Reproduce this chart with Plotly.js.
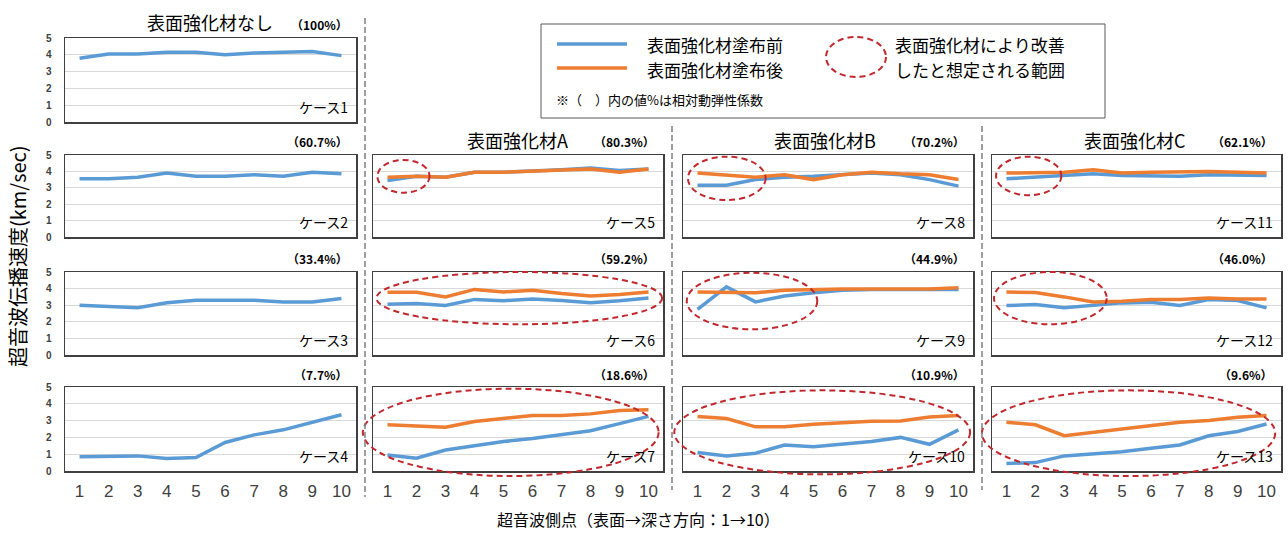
<!DOCTYPE html>
<html>
<head>
<meta charset="utf-8">
<script src="https://cdn.plot.ly/plotly-3.0.1.min.js"></script>
<style>html,body{margin:0;padding:0;background:#fff;}#chart{width:1288px;height:533px;}</style>
</head>
<body>
<div id="chart"></div>
<script>
// ---- data ----
const points = [1,2,3,4,5,6,7,8,9,10];
const pointLabels = ["1","2","3","4","5","6","7","8","9","10"];
const seriesNames = ["表面強化材塗布前","表面強化材塗布後"];
const caseLabels = ["ケース1","ケース2","ケース3","ケース4","ケース5","ケース6","ケース7","ケース8","ケース9","ケース10","ケース11","ケース12","ケース13"];
const pctLabels = ["（100%）","（60.7%）","（33.4%）","（7.7%）","（80.3%）","（59.2%）","（18.6%）","（70.2%）","（44.9%）","（10.9%）","（62.1%）","（46.0%）","（9.6%）"];
const columnTitles = ["表面強化材なし","表面強化材A","表面強化材B","表面強化材C"];

const before1 = [3.8,4.05,4.05,4.15,4.15,4.0,4.1,4.15,4.2,3.95];
const before2 = [3.55,3.55,3.65,3.9,3.7,3.7,3.8,3.7,3.95,3.85];
const before3 = [3.0,2.95,2.85,3.15,3.3,3.3,3.3,3.2,3.2,3.4];
const before4 = [0.85,0.85,0.9,0.75,0.8,1.7,2.15,2.45,2.9,3.35];

const before5 = [3.45,3.7,3.65,3.95,3.95,4.0,4.1,4.2,4.05,4.15];
const after5  = [3.65,3.7,3.65,3.95,3.95,4.0,4.05,4.15,3.95,4.15];
const before6 = [3.05,3.1,2.98,3.35,3.27,3.38,3.29,3.15,3.27,3.43];
const after6  = [3.78,3.78,3.5,3.95,3.8,3.9,3.7,3.55,3.65,3.8];
const before7 = [0.95,0.76,1.25,1.5,1.75,1.94,2.18,2.4,2.82,3.25];
const after7  = [2.75,2.7,2.6,2.95,3.15,3.3,3.3,3.4,3.6,3.65];

const before8 = [3.15,3.15,3.5,3.65,3.7,3.8,3.9,3.8,3.5,3.1];
const after8  = [3.9,3.75,3.65,3.8,3.5,3.8,3.95,3.85,3.8,3.5];
const before9 = [2.75,4.1,3.2,3.55,3.75,3.9,3.95,3.95,3.9,3.95];
const after9  = [3.8,3.8,3.75,3.9,3.95,3.98,3.98,3.98,3.98,4.05];
const before10 = [1.1,0.9,1.06,1.55,1.45,1.59,1.75,2.0,1.59,2.45];
const after10  = [3.25,3.12,2.63,2.63,2.78,2.86,2.96,2.98,3.22,3.3];

const before11 = [3.55,3.65,3.75,3.85,3.75,3.75,3.7,3.8,3.75,3.75];
const after11  = [3.9,3.9,3.95,4.1,3.9,3.95,4.0,4.0,3.95,3.9];
const before12 = [2.98,3.04,2.84,3.0,3.14,3.18,2.98,3.34,3.28,2.84];
const after12  = [3.8,3.76,3.5,3.2,3.24,3.34,3.34,3.44,3.38,3.38];
const before13 = [0.45,0.5,0.9,1.0,1.15,1.35,1.55,2.1,2.35,2.8];
const after13  = [2.9,2.75,2.1,2.3,2.5,2.75,2.9,3.0,3.2,3.3];

// highlighted ranges (data units: x0,x1,y0,y1) for cases 5..13
const improvedRanges = {
  5:[0.65,2.45,2.7,4.7], 6:[0.62,10.47,1.85,5.0], 7:[0.15,10.35,-0.3,4.9],
  8:[0.67,3.35,2.25,4.9], 9:[0.63,5.13,1.55,4.95], 10:[0.2,10.4,-0.2,4.8],
  11:[0.64,2.9,2.55,4.9], 12:[0.57,4.47,1.85,5.0], 13:[0.15,10.3,-0.3,4.8]
};

const beforeSeries = [before1,before2,before3,before4,before5,before6,before7,before8,before9,before10,before11,before12,before13];
const afterSeries = [null,null,null,null,after5,after6,after7,after8,after9,after10,after11,after12,after13];

// ---- layout geometry ----
const W = 1288, H = 533;
const cols = [[65,356],[373,663],[683,973],[992,1281]];
const rows = [[38,122],[155,237],[272,355],[387,471]];
const panelPos = [[0,0],[0,1],[0,2],[0,3],[1,1],[1,2],[1,3],[2,1],[2,2],[2,3],[3,1],[3,2],[3,3]];
const XR = [0.5,10.5], YR = [0,5];
const px = x => x / W;
const py = y => 1 - y / H;

const BLUE = '#5B9BD5', ORANGE = '#ED7D31', RED = '#C0282D';
const JP = '"Noto Sans CJK JP", "Noto Sans", sans-serif';

const data = [];
const layout = {
  width: W, height: H,
  margin: {l:0, r:0, t:0, b:0},
  paper_bgcolor: '#fff', plot_bgcolor: '#fff',
  showlegend: false,
  font: {family: JP, color: '#000'},
  shapes: [], annotations: []
};

panelPos.forEach((pos, i) => {
  const n = i + 1;
  const [c, r] = pos;
  const xd = [px(cols[c][0]), px(cols[c][1])];
  const yd = [py(rows[r][1]), py(rows[r][0])];
  const xa = 'xaxis' + (n === 1 ? '' : n), ya = 'yaxis' + (n === 1 ? '' : n);
  const xr = 'x' + (n === 1 ? '' : n), yr = 'y' + (n === 1 ? '' : n);
  layout[xa] = {
    domain: xd, range: XR, anchor: yr, showgrid: false, zeroline: false,
    showline: true, mirror: true, linecolor: '#404040', linewidth: 1.5,
    ticks: '', tickvals: points, ticktext: pointLabels, ticklabelstandoff: 4,
    showticklabels: r === 3, tickfont: {size: 17, color: '#404040', family: '"Liberation Sans", Arial, sans-serif'},
    fixedrange: true
  };
  layout[ya] = {
    domain: yd, range: YR, anchor: xr, dtick: 1, tick0: 0,
    showgrid: true, gridcolor: '#d9d9d9', gridwidth: 1, zeroline: false,
    showline: true, mirror: true, linecolor: '#404040', linewidth: 1.5,
    ticks: '', showticklabels: c === 0, ticklabelstandoff: 10,
    tickfont: {size: 10, color: '#404040', family: '"Liberation Sans", Arial, sans-serif', weight: 'bold'},
    fixedrange: true
  };
  data.push({x: points, y: beforeSeries[i], xaxis: xr, yaxis: yr, type: 'scatter', mode: 'lines',
    name: seriesNames[0], line: {color: BLUE, width: 3.5}, hoverinfo: 'skip'});
  if (afterSeries[i]) {
    data.push({x: points, y: afterSeries[i], xaxis: xr, yaxis: yr, type: 'scatter', mode: 'lines',
      name: seriesNames[1], line: {color: ORANGE, width: 3.5}, hoverinfo: 'skip'});
  }
  layout.annotations.push({xref: 'paper', yref: 'paper', x: xd[1] - px(6), y: yd[0] + 3/H,
    xanchor: 'right', yanchor: 'bottom', showarrow: false, text: caseLabels[i],
    font: {size: 14, color: '#000', family: JP}});
  layout.annotations.push({xref: 'paper', yref: 'paper', x: xd[1] - px(6), y: yd[1] + 13/H,
    xanchor: 'right', yanchor: 'middle', showarrow: false, text: pctLabels[i],
    font: {size: 12, color: '#000', family: JP, weight: 'bold'}});
  const e = improvedRanges[n];
  if (e) {
    const toX = v => xd[0] + (v - XR[0]) / (XR[1] - XR[0]) * (xd[1] - xd[0]);
    const toY = v => yd[0] + (v - YR[0]) / (YR[1] - YR[0]) * (yd[1] - yd[0]);
    layout.shapes.push({type: 'circle', xref: 'paper', yref: 'paper',
      x0: toX(e[0]), x1: toX(e[1]), y0: toY(e[2]), y1: toY(e[3]),
      line: {color: RED, width: 2, dash: '6px,4px'}, layer: 'above'});
  }
});

const titlePos = [[210,22],[517,140],[825,140],[1134,140]];
columnTitles.forEach((t, k) => {
  layout.annotations.push({xref: 'paper', yref: 'paper', x: px(titlePos[k][0]), y: py(titlePos[k][1]),
    xanchor: 'center', yanchor: 'middle', showarrow: false, text: t,
    font: {size: 18, color: '#000', family: JP}});
});

[[365,18,497],[672,126,490],[982,126,490]].forEach(s => {
  layout.shapes.push({type: 'line', xref: 'paper', yref: 'paper', x0: px(s[0]), x1: px(s[0]), y0: py(s[1]), y1: py(s[2]),
    line: {color: '#7f7f7f', width: 1.5, dash: '6px,3px'}});
});

layout.shapes.push({type: 'rect', xref: 'paper', yref: 'paper', x0: px(541), x1: px(1105), y0: py(118), y1: py(24),
  line: {color: '#595959', width: 1}, fillcolor: 'rgba(0,0,0,0)'});
layout.shapes.push({type: 'line', xref: 'paper', yref: 'paper', x0: px(557), x1: px(627), y0: py(44), y1: py(44),
  line: {color: BLUE, width: 3.5}});
layout.shapes.push({type: 'line', xref: 'paper', yref: 'paper', x0: px(557), x1: px(627), y0: py(68), y1: py(68),
  line: {color: ORANGE, width: 3.5}});
layout.shapes.push({type: 'circle', xref: 'paper', yref: 'paper', x0: px(826), x1: px(886), y0: py(77), y1: py(37),
  line: {color: RED, width: 2, dash: '6px,4px'}});
[[seriesNames[0],645,44],[seriesNames[1],645,69],["表面強化材により改善",893,44],["したと想定される範囲",893,69]].forEach(t => {
  layout.annotations.push({xref: 'paper', yref: 'paper', x: px(t[1]), y: py(t[2]), xanchor: 'left', yanchor: 'middle',
    showarrow: false, text: t[0], font: {size: 17, color: '#000', family: JP}});
});
layout.annotations.push({xref: 'paper', yref: 'paper', x: px(554), y: py(99), xanchor: 'left', yanchor: 'middle',
  showarrow: false, text: '※（　）内の値%は相対動弾性係数', font: {size: 13, color: '#000', family: JP}});

layout.annotations.push({xref: 'paper', yref: 'paper', x: px(638), y: py(519), xanchor: 'center', yanchor: 'middle',
  showarrow: false, text: '超音波側点（表面→深さ方向：1→10）', font: {size: 16, color: '#000', family: JP}});
layout.annotations.push({xref: 'paper', yref: 'paper', x: px(17), y: py(256), xanchor: 'center', yanchor: 'middle',
  showarrow: false, textangle: -90, text: '超音波伝播速度(km/sec)', font: {size: 20, color: '#000', family: JP}});

Plotly.newPlot('chart', data, layout, {staticPlot: true, displayModeBar: false});
</script>
</body>
</html>
